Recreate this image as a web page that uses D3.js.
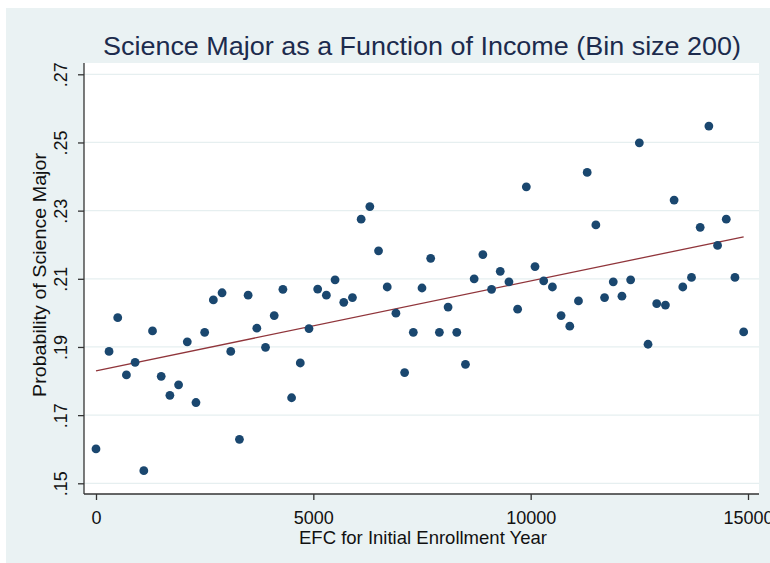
<!DOCTYPE html>
<html>
<head>
<meta charset="utf-8">
<script src="https://cdn.jsdelivr.net/npm/d3@7"></script>
<style>
  body { margin: 0; background: #fff; }
  svg { display: block; font-family: "Liberation Sans", Arial, sans-serif; }
</style>
</head>
<body>
<svg width="770" height="563"></svg>
<script>
// bin midpoints (EFC) and share majoring in science
var efc = [0, 300, 500, 700, 900, 1100, 1300, 1500, 1700, 1900,
  2100, 2300, 2500, 2700, 2900, 3100, 3300, 3500, 3700, 3900,
  4100, 4300, 4500, 4700, 4900, 5100, 5300, 5500, 5700, 5900,
  6100, 6300, 6500, 6700, 6900, 7100, 7300, 7500, 7700, 7900,
  8100, 8300, 8500, 8700, 8900, 9100, 9300, 9500, 9700, 9900,
  10100, 10300, 10500, 10700, 10900, 11100, 11300, 11500, 11700, 11900,
  12100, 12300, 12500, 12700, 12900, 13100, 13300, 13500, 13700, 13900,
  14100, 14300, 14500, 14700, 14900];
var probSci = [.1601, .1887, .1986, .1818, .1855, .1537, .1947, .1814, .1758, .1789,
  .1915, .1737, .1943, .2038, .2059, .1887, .1629, .2052, .1955, .1899,
  .1992, .2069, .1751, .1853, .1954, .2070, .2052, .2097, .2031, .2045,
  .2275, .2312, .2182, .2076, .1999, .1825, .1943, .2073, .2160, .1943,
  .2017, .1943, .1849, .2100, .2171, .2069, .2122, .2091, .2011, .2370,
  .2136, .2094, .2076, .1992, .1961, .2035, .2412, .2258, .2045, .2091,
  .2049, .2097, .2499, .1908, .2027, .2023, .2331, .2076, .2104, .2251,
  .2548, .2198, .2275, .2104, .1944];
var xTicks = [0, 5000, 10000, 15000];
var yTicks = [.15, .17, .19, .21, .23, .25, .27];

var title = "Science Major as a Function of Income (Bin size 200)";
var xTitle = "EFC for Initial Enrollment Year";
var yTitle = "Probability of Science Major";

var svg = d3.select("svg");

// outer (graph region) background
svg.append("rect").attr("x", 6).attr("y", 8).attr("width", 764).attr("height", 555)
    .attr("fill", "#eaf2f3");

// plot region
var plot = {left: 84, top: 63, right: 759, bottom: 494};
svg.append("rect")
    .attr("x", plot.left).attr("y", plot.top)
    .attr("width", plot.right - plot.left).attr("height", plot.bottom - plot.top)
    .attr("fill", "#fff");

var x = d3.scaleLinear().domain([0, 15000]).range([96, 748]);
var y = d3.scaleLinear().domain([.15, .27]).range([483.3, 74.3]);

// gridlines
svg.append("g").selectAll("line").data(yTicks).enter().append("line")
    .attr("x1", plot.left).attr("x2", plot.right)
    .attr("y1", function(d) { return y(d); }).attr("y2", function(d) { return y(d); })
    .attr("stroke", "#e6eff0").attr("stroke-width", 1.2);

// fitted line (least squares)
var n = efc.length,
    mx = d3.mean(efc),
    my = d3.mean(probSci);
var sxy = d3.sum(efc, function(d, i) { return (d - mx) * (probSci[i] - my); });
var sxx = d3.sum(efc, function(d) { return (d - mx) * (d - mx); });
var slope = sxy / sxx, icept = my - slope * mx;
var xr = d3.extent(efc);

svg.append("line")
    .attr("x1", x(xr[0])).attr("y1", y(icept + slope * xr[0]))
    .attr("x2", x(xr[1])).attr("y2", y(icept + slope * xr[1]))
    .attr("stroke", "#90353b").attr("stroke-width", 1.3);

// points
svg.append("g").selectAll("circle").data(efc).enter().append("circle")
    .attr("cx", function(d) { return x(d); })
    .attr("cy", function(d, i) { return y(probSci[i]); })
    .attr("r", 4.4)
    .attr("fill", "#1a476f");

// axes
var yAxis = d3.axisLeft(y).tickValues(yTicks).tickSize(6)
    .tickFormat(function(d) { return d3.format(".2f")(d).replace(/^0/, ""); });
var gy = svg.append("g").attr("transform", "translate(" + plot.left + ",0)").call(yAxis);
gy.select(".domain").remove();
gy.append("line").attr("x1", 0).attr("x2", 0).attr("y1", plot.top).attr("y2", plot.bottom)
    .attr("stroke", "#333").attr("stroke-width", 1.3);
gy.selectAll(".tick line").attr("stroke", "#333").attr("stroke-width", 1.3);
gy.selectAll(".tick text")
    .attr("transform", "rotate(-90)")
    .attr("x", 0).attr("y", -17)
    .attr("dy", 0)
    .attr("text-anchor", "middle")
    .attr("fill", "#111")
    .style("font-size", "18px");

var xAxis = d3.axisBottom(x).tickValues(xTicks).tickSize(6).tickFormat(d3.format("d"));
var gx = svg.append("g").attr("transform", "translate(0," + plot.bottom + ")").call(xAxis);
gx.select(".domain").remove();
gx.append("line").attr("x1", plot.left).attr("x2", plot.right).attr("y1", 0).attr("y2", 0)
    .attr("stroke", "#333").attr("stroke-width", 1.3);
gx.selectAll(".tick line").attr("stroke", "#333").attr("stroke-width", 1.3);
gx.selectAll(".tick text")
    .attr("y", 30).attr("dy", 0)
    .attr("fill", "#111")
    .style("font-size", "18px");

// titles
svg.append("text").attr("x", 422).attr("y", 55)
    .attr("text-anchor", "middle")
    .attr("textLength", 638).attr("lengthAdjust", "spacingAndGlyphs")
    .attr("fill", "#1c2b4d").style("font-size", "26px")
    .text(title);

svg.append("text").attr("x", 423).attr("y", 544)
    .attr("text-anchor", "middle")
    .attr("textLength", 248).attr("lengthAdjust", "spacingAndGlyphs")
    .attr("fill", "#111").style("font-size", "19px")
    .text(xTitle);

svg.append("text")
    .attr("transform", "translate(46,275) rotate(-90)")
    .attr("text-anchor", "middle")
    .attr("textLength", 244).attr("lengthAdjust", "spacingAndGlyphs")
    .attr("fill", "#111").style("font-size", "19px")
    .text(yTitle);
</script>
</body>
</html>
